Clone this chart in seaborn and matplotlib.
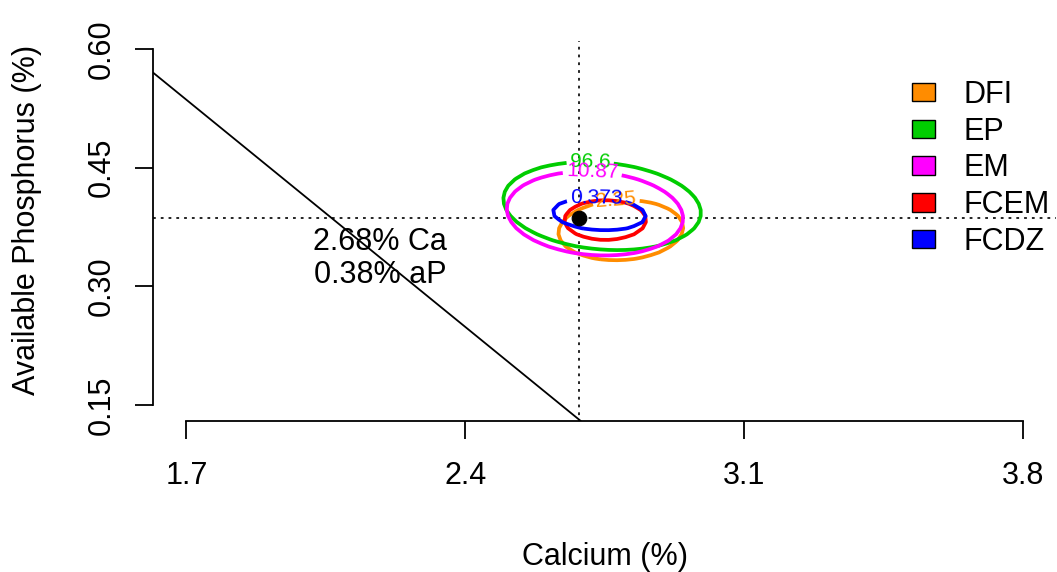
import numpy as np
import pandas as pd
import matplotlib
matplotlib.use("Agg")
import matplotlib.pyplot as plt
from matplotlib.patches import Patch
import seaborn as sns

# optimum point found from the response surfaces
opt_ca = 2.687
opt_ap = 0.386
opt_labels = ["2.68% Ca", "0.38% aP"]
guide_top = 0.61

# Ca:aP ratio line (two points)
ratio_ca = [1.6153, 2.687]
ratio_ap = [0.5705, 0.1311]

# one contour ellipse per response
responses = ["DFI", "EP", "EM", "FCEM", "FCDZ"]
colors = ["#FF8C00", "#00CD00", "#FF00FF", "#FF0000", "#0000FF"]
centre_ca = [2.791, 2.744, 2.726, 2.752, 2.737]
centre_ap = [0.371, 0.4015, 0.392, 0.3838, 0.3914]
half_ca = [0.157, 0.249, 0.222, 0.103, 0.117]
half_ap = [0.038, 0.055, 0.0527, 0.0253, 0.0206]
tilt_deg = [3, -5, -4, 0, -3]
contour_labels = ["2.25", "96.6", "10.87", "", "0.373"]
label_ca = [2.779, 2.714, 2.719, 2.75, 2.729]
label_ap = [0.4104, 0.4546, 0.4407, 0.41, 0.4082]

x_ticks = [1.7, 2.4, 3.1, 3.8]
x_tick_labels = ["1.7", "2.4", "3.1", "3.8"]
y_ticks = [0.15, 0.30, 0.45, 0.60]
y_tick_labels = ["0.15", "0.30", "0.45", "0.60"]

sns.set_theme(style="white")
plt.rcParams['font.family'] = ['Liberation Sans', 'DejaVu Sans']
plt.rcParams['lines.scale_dashes'] = False
plt.rcParams['text.color'] = 'black'
plt.rcParams['axes.labelcolor'] = 'black'

fig = plt.figure(figsize=(10.57, 5.72), dpi=100)
ax = fig.add_axes([153/1057, (572-421)/572, 903/1057, 403/572])

# coarse grid like the original contour()
gx = np.linspace(1.6, 3.9, 110)
gy = np.linspace(0.12, 0.65, 70)
GX, GY = np.meshgrid(gx, gy)
k = 1.99  # y stretch of the panel relative to x (for the tilt)

for i in range(len(responses)):
    t = np.radians(tilt_deg[i])
    u = GX - centre_ca[i]
    v = (GY - centre_ap[i]) * k
    pu = u * np.cos(t) + v * np.sin(t)
    pv = -u * np.sin(t) + v * np.cos(t)
    Z = (pu / half_ca[i])**2 + (pv / (half_ap[i] * k))**2
    cs = ax.contour(GX, GY, Z, levels=[1.0], colors=[colors[i]], linewidths=2.7, zorder=3)
    if contour_labels[i]:
        ax.clabel(cs, fmt={1.0: contour_labels[i]}, manual=[(label_ca[i], label_ap[i])],
                  fontsize=15, inline=True, inline_spacing=3)

dots = (0, (2, 3.6))
ax.axhline(opt_ap, color="black", lw=1.2, ls=dots, zorder=2)
ax.vlines(opt_ca, 0.0, guide_top, color="black", lw=1.2, ls=dots, zorder=2)
ax.axline((ratio_ca[0], ratio_ap[0]), (ratio_ca[1], ratio_ap[1]), color="black", lw=1.3, zorder=2)

sns.scatterplot(x=[opt_ca], y=[opt_ap], color="black", s=110, edgecolor="black", ax=ax, zorder=5)

ax.text(2.186, 0.356, opt_labels[0], ha="center", va="center", fontsize=22, color="black")
ax.text(2.186, 0.3143, opt_labels[1], ha="center", va="center", fontsize=22, color="black")

ax.set_xlim(1.616, 3.884)
ax.set_ylim(0.1297, 0.6392)
ax.set_xticks(x_ticks)
ax.set_xticklabels(x_tick_labels)
ax.set_yticks(y_ticks)
ax.set_yticklabels(y_tick_labels)
for lbl in ax.get_yticklabels():
    lbl.set_rotation(90)
    lbl.set_va("center")

sns.despine(ax=ax, trim=True)
for s in ["left", "bottom"]:
    ax.spines[s].set_color("black")
    ax.spines[s].set_linewidth(1.3)
ax.tick_params(axis="both", direction="out", length=13, width=1.3, color="black",
               labelsize=22, labelcolor="black", left=True, bottom=True)
ax.tick_params(axis="x", pad=16)
ax.tick_params(axis="y", pad=13)

ax.set_xlabel("Calcium (%)", fontsize=22, va="center", color="black")
ax.xaxis.set_label_coords(0.5, -0.3375)
ax.set_ylabel("Available Phosphorus (%)", fontsize=22, va="center", color="black")
ax.yaxis.set_label_coords(-0.1395, 0.5)

handles = [Patch(facecolor=c, edgecolor="black", lw=1) for c in colors]
leg = fig.legend(handles, responses, loc="upper left", bbox_to_anchor=(912/1057, 1 - 80/572),
                 frameon=False, fontsize=22, handlelength=0.75, handleheight=0.55,
                 handletextpad=0.95, labelspacing=0.22, borderpad=0, borderaxespad=0)
for txt in leg.get_texts():
    txt.set_color("black")

fig.savefig("out.png", dpi=100)
